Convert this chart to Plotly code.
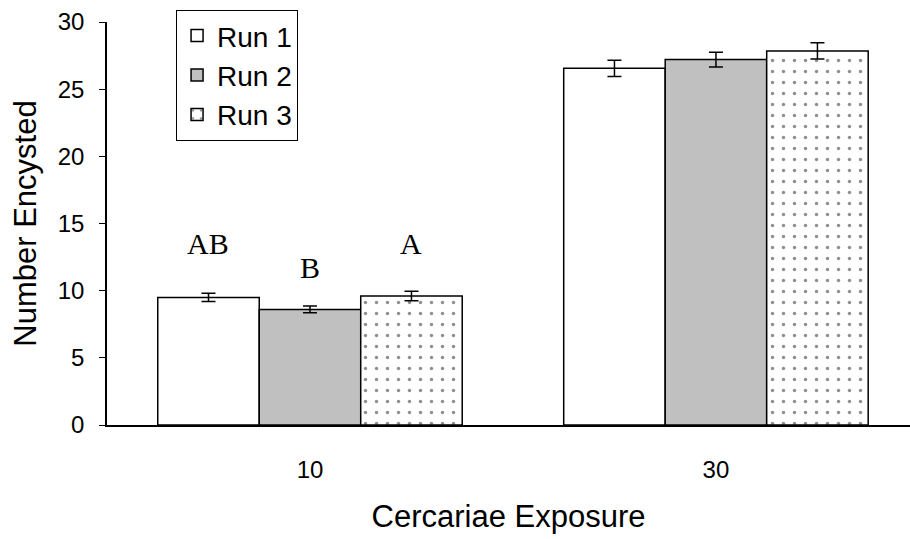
import plotly.graph_objects as go

categories = ["10", "30"]
run_names = ["Run 1", "Run 2", "Run 3"]
run1 = [9.5, 26.55]
run2 = [8.6, 27.2]
run3 = [9.6, 27.85]
run1_err = [0.3, 0.6]
run2_err = [0.25, 0.55]
run3_err = [0.35, 0.6]
letters = ["AB", "B", "A"]
letter_y = [13.5, 11.75, 13.5]

fig = go.Figure()
styles = [
    dict(color="white"),
    dict(color="#c0c0c0"),
    dict(color="white", pattern=dict(shape=".", fgcolor="#222222", bgcolor="white", size=11, solidity=0.08)),
]
for name, vals, errs, st in zip(run_names, [run1, run2, run3], [run1_err, run2_err, run3_err], styles):
    fig.add_trace(go.Bar(
        x=categories, y=vals, name=name,
        marker=dict(line=dict(color="black", width=1.5), **st),
        error_y=dict(type="data", array=errs, visible=True, color="black", thickness=1.5, width=7),
    ))

offsets = [-1, 0, 1]
for off, lab, ly in zip(offsets, letters, letter_y):
    fig.add_annotation(x=0 + off * 0.25, y=ly, xref="x", yref="y", text=lab, showarrow=False,
                       font=dict(family="Liberation Serif, Times New Roman, serif", size=30, color="black"))

fig.update_layout(
    width=910, height=539,
    margin=dict(l=107, r=0, t=22, b=114),
    paper_bgcolor="white", plot_bgcolor="white",
    barmode="group", bargap=0.25, bargroupgap=0,
    font=dict(family="Liberation Sans, Arial, sans-serif", color="black", size=24),
    showlegend=True,
    legend=dict(x=0.086, y=1.03, xanchor="left", yanchor="top",
                bordercolor="black", borderwidth=1, bgcolor="white",
                font=dict(size=28), traceorder="normal"),
)
fig.update_xaxes(type="category", range=[-0.5, 1.478], showline=True, linecolor="black", linewidth=1.5,
                 ticks="", ticklabelstandoff=22,
                 title=dict(text="Cercariae Exposure", font=dict(size=31), standoff=24),
                 tickfont=dict(size=24))
fig.update_yaxes(range=[0, 30], dtick=5, showline=True, linecolor="black", linewidth=1.5,
                 ticks="outside", ticklen=6, tickcolor="black", showgrid=False, zeroline=False,
                 ticklabelstandoff=10,
                 title=dict(text="Number Encysted", font=dict(size=31), standoff=12),
                 tickfont=dict(size=24))

fig.write_html("out.html")
